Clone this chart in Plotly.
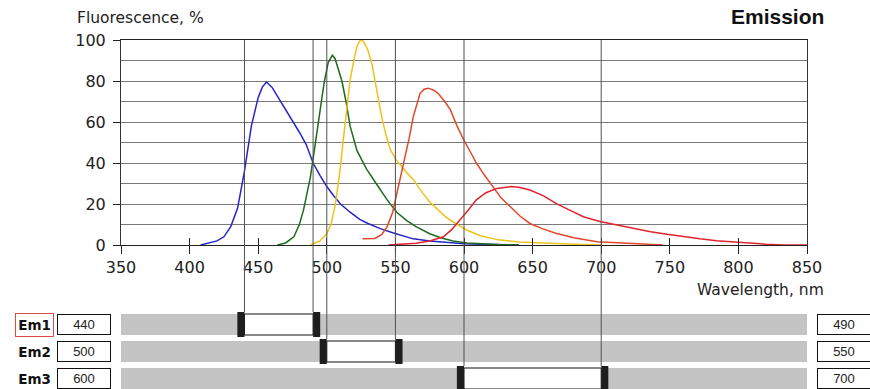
import plotly.graph_objects as go

# ---------------- data ----------------
blue_wl = [408, 415, 420, 425, 430, 435, 440, 445, 450, 453, 456, 460, 466, 470, 476, 480, 485, 490,
           495, 500, 505, 510, 517, 524, 530, 539, 548, 555, 563, 575, 590, 600, 620, 640]
blue_val = [0, 1, 2, 4, 9, 18, 36, 58, 72, 77, 79.5, 77, 70.5, 66, 59, 55, 49, 40,
            34, 28.5, 24, 20, 16, 12.5, 10.5, 8, 6, 4.5, 3, 2, 1, 0.6, 0.2, 0]

green_wl = [464, 470, 476, 480, 483, 486, 488, 490, 493, 496, 498, 501, 504, 506, 508, 511, 514, 517,
            522, 529, 536, 544, 551, 558, 565, 575, 583, 592, 602, 615, 625, 640]
green_val = [0, 1, 4, 10, 17, 26, 33, 42, 55, 70, 79, 89, 92.5, 91, 87, 80, 70, 58,
             46, 37, 30, 22, 16, 12, 9, 5.5, 3.5, 2, 1, 0.5, 0.2, 0]

yellow_wl = [488, 495, 500, 503, 506, 509, 512, 515, 517, 520, 522, 524, 525.5, 527, 530, 533, 535, 538,
             540, 543, 546, 550, 554, 558, 563, 568, 575, 581, 587, 595, 602, 612, 625, 640, 660, 680, 700]
yellow_val = [0, 2, 5.5, 10, 19, 33, 51, 68, 80.5, 91, 97, 99.5, 100, 99, 95, 88, 80.5, 70,
              62.5, 54, 47, 42, 38.5, 35.5, 32, 27, 21, 17, 13.5, 10, 7.3, 4.5, 2.5, 1.5, 0.8, 0.4, 0]

orange_wl = [526, 535, 540, 544, 548, 551, 554, 557, 560, 563, 566, 568, 571, 574, 578, 581, 586, 590,
             595, 600, 605, 609, 615, 621, 627, 634, 641, 648, 657, 667, 680, 697, 720, 745]
orange_val = [3, 3.2, 5, 9, 16, 25, 33, 41.5, 52, 62.5, 70, 74, 76, 76.5, 75.5, 74, 70, 66,
              58, 51, 45, 40, 34, 28.5, 23, 18.5, 14, 10.5, 8, 5.7, 3.5, 1.6, 0.8, 0]

red_wl = [545, 555, 565, 575, 585, 591, 597, 603, 609, 616, 624, 630, 634, 640, 648, 658, 667, 677,
          687, 699, 711, 723, 736, 748, 760, 772, 784, 796, 808, 820, 833, 850]
red_val = [0, 0.3, 0.8, 2, 4, 7.5, 12, 17, 22, 25.5, 27.6, 28.3, 28.5, 28.2, 26.8, 24, 20.3, 17,
           13.8, 11.5, 9.8, 8, 6.5, 5.2, 4, 3, 2.1, 1.5, 0.8, 0.4, 0, 0]

x_ticks = [350, 400, 450, 500, 550, 600, 650, 700, 750, 800, 850]
y_ticks = [0, 20, 40, 60, 80, 100]

filter_names = ["Em1", "Em2", "Em3"]
filter_lo = [440, 500, 600]
filter_hi = [490, 550, 700]
selected_filter = "Em1"

title_text = "Emission"
y_title = "Fluorescence, %"
x_title = "Wavelength, nm"

# ---------------- layout helpers ----------------
FIG_W, FIG_H = 870, 389
M_L, M_R, M_T, M_B = 121, 63, 40, 144
PLOT_W = FIG_W - M_L - M_R
PLOT_H = FIG_H - M_T - M_B
X_RANGE = [x_ticks[0], x_ticks[-1]]
Y_RANGE = [y_ticks[0], y_ticks[-1]]


def px(p):
    return (p - M_L) / PLOT_W


def py(p):
    return (FIG_H - M_B - p) / PLOT_H


FONT = "DejaVu Sans, Verdana, sans-serif"
ARIAL = "Liberation Sans, Arial, sans-serif"
GRID = "#7a7a7a"

fig = go.Figure()

series = [
    (blue_wl, blue_val, "#2626c8"),
    (green_wl, green_val, "#1f6a1f"),
    (yellow_wl, yellow_val, "#eec21c"),
    (orange_wl, orange_val, "#e2472a"),
    (red_wl, red_val, "#e0222c"),
]
for wl, val, col in series:
    fig.add_trace(go.Scatter(x=wl, y=val, mode="lines", line=dict(color=col, width=1.5),
                             hoverinfo="skip", showlegend=False))

# invisible trace to carry the inside-tick axis
fig.add_trace(go.Scatter(x=X_RANGE, y=[0, 0], xaxis="x2", mode="markers",
                         marker=dict(opacity=0), hoverinfo="skip", showlegend=False))

shapes = []
row_top = [314, 341, 368]
row_h = 21
handle_nm = 5.2
for i, name in enumerate(filter_names):
    t, b = row_top[i], row_top[i] + row_h
    shapes.append(dict(type="rect", xref="x", yref="paper", x0=X_RANGE[0], x1=X_RANGE[1],
                       y0=py(t), y1=py(b), fillcolor="#c4c4c4", line=dict(width=0), layer="above"))
    shapes.append(dict(type="rect", xref="x", yref="paper", x0=filter_lo[i], x1=filter_hi[i],
                       y0=py(t), y1=py(b), fillcolor="white", line=dict(color="#111", width=1),
                       layer="above"))
    shapes.append(dict(type="rect", xref="x", yref="paper", x0=filter_lo[i] - handle_nm, x1=filter_lo[i],
                       y0=py(t - 2), y1=py(b + 2), fillcolor="#1e1e1e", line=dict(width=0), layer="above"))
    shapes.append(dict(type="rect", xref="x", yref="paper", x0=filter_hi[i], x1=filter_hi[i] + handle_nm,
                       y0=py(t - 2), y1=py(b + 2), fillcolor="#1e1e1e", line=dict(width=0), layer="above"))

for i, name in enumerate(filter_names):
    t = row_top[i]
    for xv in (filter_lo[i], filter_hi[i]):
        shapes.append(dict(type="line", xref="x", yref="paper", x0=xv, x1=xv, y0=1, y1=py(t - 2),
                           line=dict(color="#505050", width=1), layer="above"))

annotations = [
    dict(text=y_title, xref="paper", yref="paper", x=px(75), y=py(18), xanchor="left",
         yanchor="middle", showarrow=False, font=dict(family=FONT, size=15.5, color="#222")),
    dict(text="<b>" + title_text + "</b>", xref="paper", yref="paper", x=px(826), y=py(17),
         xanchor="right", yanchor="middle", showarrow=False,
         font=dict(family=ARIAL, size=21, color="#111")),
    dict(text=x_title, xref="paper", yref="paper", x=px(826), y=py(290), xanchor="right",
         yanchor="middle", showarrow=False, font=dict(family=FONT, size=15.5, color="#222")),
]

for i, name in enumerate(filter_names):
    t = row_top[i]
    sel = name == selected_filter
    annotations.append(dict(text="<b>" + name + "</b>", xref="paper", yref="paper",
                            x=px(15), y=py(t - 1), xanchor="left", yanchor="top",
                            width=37, height=22, borderpad=0, align="center", valign="middle",
                            bordercolor="#d94a4a" if sel else "rgba(0,0,0,0)", borderwidth=1,
                            showarrow=False, font=dict(family=FONT, size=13.5, color="#111")))
    for val, left in ((filter_lo[i], 57), (filter_hi[i], 817)):
        annotations.append(dict(text=str(val), xref="paper", yref="paper",
                                x=px(left), y=py(t), xanchor="left", yanchor="top",
                                width=52, height=19, borderpad=0, align="center", valign="middle",
                                bordercolor="#111", borderwidth=1, bgcolor="white",
                                showarrow=False, font=dict(family=ARIAL, size=13, color="#222")))

fig.update_layout(
    width=FIG_W, height=FIG_H,
    margin=dict(l=M_L, r=M_R, t=M_T, b=M_B, pad=0),
    paper_bgcolor="white", plot_bgcolor="white",
    showlegend=False,
    xaxis=dict(range=X_RANGE, tickvals=x_ticks, ticks="outside", ticklen=8, tickcolor="#222",
               tickwidth=1, showgrid=False, zeroline=False, showline=True, linecolor="#222",
               linewidth=1, mirror=True, tickfont=dict(family=FONT, size=16, color="#222")),
    xaxis2=dict(range=X_RANGE, tickvals=x_ticks, overlaying="x", anchor="y", side="bottom",
                ticks="inside", ticklen=7, tickcolor="#222", tickwidth=1, showticklabels=False,
                showgrid=False, zeroline=False, showline=False),
    yaxis=dict(range=Y_RANGE, tickvals=y_ticks, ticks="outside", ticklen=7, tickcolor="#222",
               showgrid=True, gridcolor=GRID, gridwidth=1, zeroline=False, showline=True,
               linecolor="#333", linewidth=1, mirror=True, ticklabelstandoff=4,
               tickfont=dict(family=FONT, size=16, color="#222"),
               minor=dict(dtick=10, showgrid=True, gridcolor=GRID, gridwidth=1, ticks="")),
    shapes=shapes,
    annotations=annotations,
)

fig.write_html("out.html")
